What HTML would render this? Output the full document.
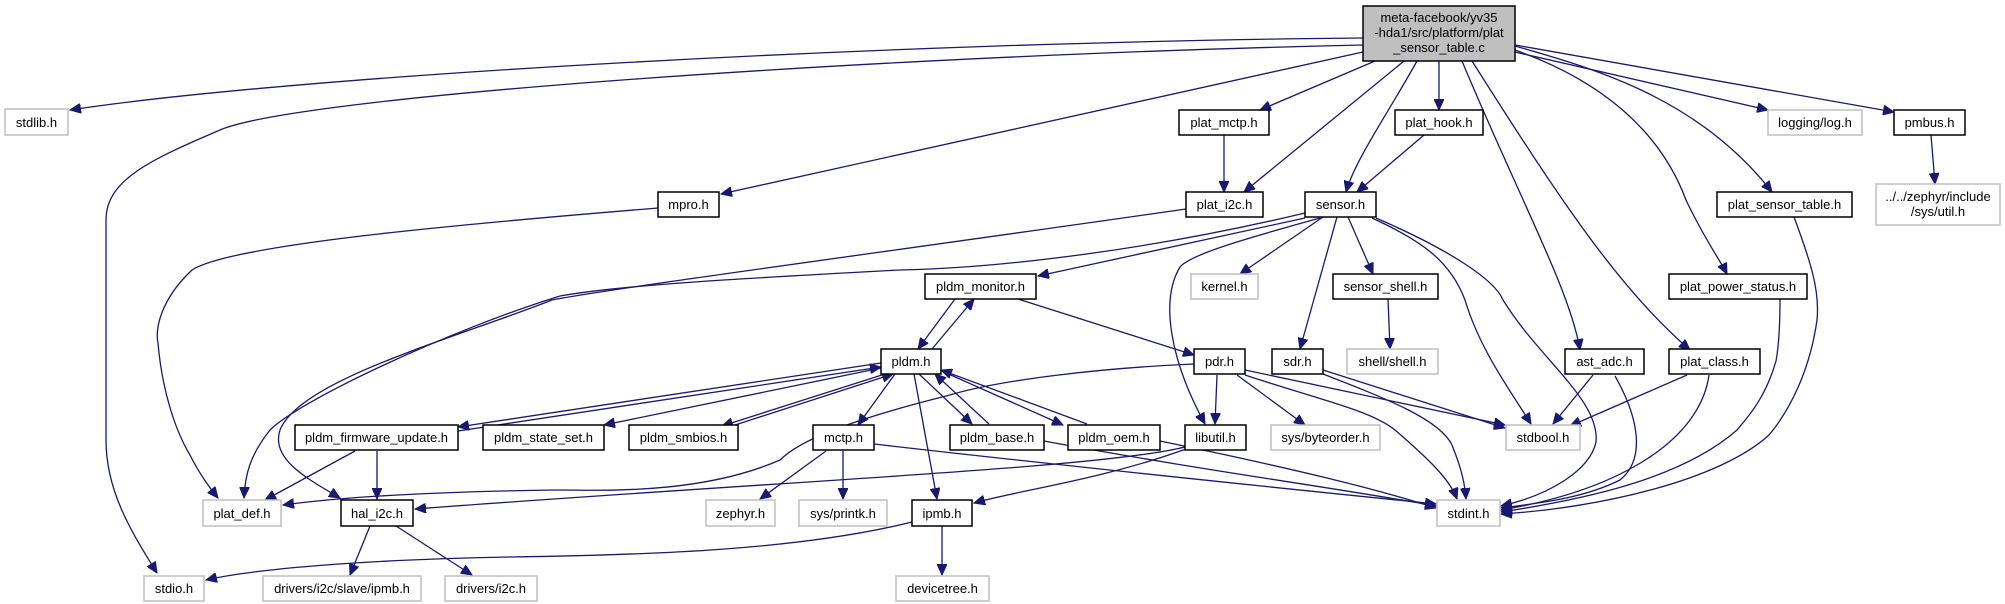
<!DOCTYPE html>
<html><head><meta charset="utf-8"><style>
html,body{margin:0;padding:0;background:#fff;}
svg{display:block;}
text{font-family:"Liberation Sans",Arial,sans-serif;font-size:13px;fill:#000;}
.e{fill:none;stroke:#191970;stroke-width:1.3;marker-end:url(#a);}
.n{fill:#fff;stroke:#000;stroke-width:1.5;}
.g{fill:#fff;stroke:#bfbfbf;stroke-width:1.5;}
</style></head><body>
<svg width="2005" height="604" viewBox="0 0 2005 604" xmlns="http://www.w3.org/2000/svg">
<defs><marker id="a" markerUnits="userSpaceOnUse" markerWidth="12" markerHeight="10" refX="11" refY="5" orient="auto"><path d="M0,0 L11,5 L0,10 z" fill="#191970" stroke="#191970"/></marker></defs>

<!-- edges -->
<path class="e" d="M1363,38 C900,42 300,75 70,110"/>
<path class="e" d="M1363,45 C900,55 300,95 220,130 C150,160 106,180 106,220 L106,440 C106,490 130,530 157,573"/>
<path class="e" d="M1363,52 L721,194"/>
<path class="e" d="M1375,61 L1260,110"/>
<path class="e" d="M1404,61 L1244,192"/>
<path class="e" d="M1417,61 C1390,110 1355,160 1346,192"/>
<path class="e" d="M1439,61 L1439,110"/>
<path class="e" d="M1462,61 C1520,200 1570,290 1580,350"/>
<path class="e" d="M1472,61 C1560,200 1620,290 1690,350"/>
<path class="e" d="M1515,50 C1600,80 1660,130 1686,200 C1705,240 1720,260 1727,274"/>
<path class="e" d="M1515,46 C1600,70 1700,100 1772,192"/>
<path class="e" d="M1515,52 L1768,110"/>
<path class="e" d="M1515,45 L1894,112"/>
<path class="e" d="M1931,135 L1935,184"/>
<path class="e" d="M1224,135 L1224,192"/>
<path class="e" d="M1424,135 L1357,192"/>
<path class="e" d="M1186,209 C900,250 600,290 552,300 C450,340 300,380 280,430 C270,460 310,480 340,498"/>
<path class="e" d="M1305,213 C1150,250 1000,268 900,270 C750,278 620,285 560,296 C450,330 300,400 270,430 C250,455 245,475 244,498"/>
<path class="e" d="M658,208 C450,225 230,245 192,270 C160,300 155,330 158,343 C162,390 175,430 190,455 C200,475 210,488 218,498"/>
<path class="e" d="M1305,218 L1038,276"/>
<path class="e" d="M955,299 L918,349"/>
<path class="e" d="M932,349 L974,299"/>
<path class="e" d="M1018,299 L1194,355"/>
<path class="e" d="M881,363 L458,427"/>
<path class="e" d="M458,431 L881,367"/>
<path class="e" d="M881,368 L604,425"/>
<path class="e" d="M885,374 L722,426"/>
<path class="e" d="M735,425 L893,374"/>
<path class="e" d="M895,374 L858,425"/>
<path class="e" d="M914,374 L937,499"/>
<path class="e" d="M919,374 L972,424"/>
<path class="e" d="M989,424 L935,374"/>
<path class="e" d="M944,372 L1063,425"/>
<path class="e" d="M1087,424 L941,370"/>
<path class="e" d="M874,444 C1100,470 1300,490 1436,504"/>
<path class="e" d="M1044,441 C1200,470 1350,490 1436,506"/>
<path class="e" d="M1160,441 C1300,470 1380,490 1436,508"/>
<path class="e" d="M826,451 L760,499"/>
<path class="e" d="M843,451 L843,499"/>
<path class="e" d="M1185,447 C1100,468 800,480 415,509"/>
<path class="e" d="M1186,449 C1100,480 1020,490 974,503"/>
<path class="e" d="M1194,364 C1100,368 1000,380 950,395 C850,420 800,440 780,460 C700,495 600,490 560,490 C400,492 320,500 283,505"/>
<path class="e" d="M1217,375 L1215,424"/>
<path class="e" d="M1237,375 L1305,425"/>
<path class="e" d="M1245,370 L1505,425"/>
<path class="e" d="M1245,375 C1320,400 1370,410 1395,430 C1430,460 1450,480 1457,499"/>
<path class="e" d="M1323,370 L1505,428"/>
<path class="e" d="M1323,374 C1390,400 1440,420 1452,445 C1462,470 1465,485 1466,499"/>
<path class="e" d="M1593,375 L1553,424"/>
<path class="e" d="M1615,376 C1640,420 1645,460 1620,480 C1580,500 1530,504 1501,508"/>
<path class="e" d="M1687,375 L1570,426"/>
<path class="e" d="M1709,375 C1700,440 1620,490 1501,510"/>
<path class="e" d="M1780,299 C1780,330 1778,350 1776,361 C1765,400 1745,420 1737,430 C1680,480 1580,500 1501,512"/>
<path class="e" d="M1794,217 C1810,260 1820,290 1817,320 C1810,370 1790,410 1769,435 C1720,480 1600,508 1501,514"/>
<path class="e" d="M1372,218 C1420,240 1450,260 1465,300 C1480,350 1510,390 1531,424"/>
<path class="e" d="M1376,218 C1450,250 1495,280 1503,300 C1540,360 1600,400 1596,442 C1590,470 1550,495 1501,506"/>
<path class="e" d="M1323,217 L1240,274"/>
<path class="e" d="M1337,217 L1300,349"/>
<path class="e" d="M1348,217 L1373,274"/>
<path class="e" d="M1320,218 C1240,240 1190,255 1180,267 C1160,300 1170,360 1205,424"/>
<path class="e" d="M1388,299 L1390,349"/>
<path class="e" d="M355,451 L265,500"/>
<path class="e" d="M377,451 L377,499"/>
<path class="e" d="M370,526 L350,575"/>
<path class="e" d="M396,526 L472,575"/>
<path class="e" d="M912,522 C800,550 650,555 510,557 C350,560 250,570 206,580"/>
<path class="e" d="M942,526 L942,575"/>

<!-- nodes -->
<rect x="1363" y="6" width="152" height="55" fill="#bfbfbf" stroke="#000" stroke-width="1.5"/>
<text x="1439" y="22" text-anchor="middle">meta-facebook/yv35</text>
<text x="1439" y="37" text-anchor="middle">-hda1/src/platform/plat</text>
<text x="1439" y="52" text-anchor="middle">_sensor_table.c</text>

<rect class="g" x="5" y="109" width="63" height="26"/><text x="36.5" y="127" text-anchor="middle">stdlib.h</text>
<rect class="n" x="658" y="192" width="61" height="25"/><text x="688.5" y="209" text-anchor="middle">mpro.h</text>
<rect class="n" x="1179" y="110" width="90" height="25"/><text x="1224" y="127" text-anchor="middle">plat_mctp.h</text>
<rect class="n" x="1395" y="110" width="88" height="25"/><text x="1439" y="127" text-anchor="middle">plat_hook.h</text>
<rect class="g" x="1768" y="110" width="94" height="25"/><text x="1815" y="127" text-anchor="middle">logging/log.h</text>
<rect class="n" x="1894" y="110" width="71" height="25"/><text x="1929.5" y="127" text-anchor="middle">pmbus.h</text>
<rect class="g" x="1876" y="184" width="124" height="41"/><text x="1938" y="201" text-anchor="middle">../../zephyr/include</text><text x="1938" y="216" text-anchor="middle">/sys/util.h</text>
<rect class="n" x="1186" y="192" width="77" height="25"/><text x="1224.5" y="209" text-anchor="middle">plat_i2c.h</text>
<rect class="n" x="1305" y="192" width="71" height="25"/><text x="1340.5" y="209" text-anchor="middle">sensor.h</text>
<rect class="n" x="1717" y="192" width="135" height="25"/><text x="1784.5" y="209" text-anchor="middle">plat_sensor_table.h</text>
<rect class="g" x="1191" y="274" width="67" height="25"/><text x="1224.5" y="291" text-anchor="middle">kernel.h</text>
<rect class="n" x="1333" y="274" width="105" height="25"/><text x="1385.5" y="291" text-anchor="middle">sensor_shell.h</text>
<rect class="n" x="1669" y="274" width="138" height="25"/><text x="1738" y="291" text-anchor="middle">plat_power_status.h</text>
<rect class="n" x="925" y="274" width="111" height="25"/><text x="980.5" y="291" text-anchor="middle">pldm_monitor.h</text>
<rect class="n" x="881" y="349" width="60" height="25"/><text x="911" y="366" text-anchor="middle">pldm.h</text>
<rect class="n" x="1194" y="349" width="51" height="25"/><text x="1219.5" y="366" text-anchor="middle">pdr.h</text>
<rect class="n" x="1272" y="349" width="51" height="25"/><text x="1297.5" y="366" text-anchor="middle">sdr.h</text>
<rect class="g" x="1347" y="349" width="91" height="25"/><text x="1392.5" y="366" text-anchor="middle">shell/shell.h</text>
<rect class="n" x="1565" y="349" width="79" height="25"/><text x="1604.5" y="366" text-anchor="middle">ast_adc.h</text>
<rect class="n" x="1669" y="349" width="91" height="25"/><text x="1714.5" y="366" text-anchor="middle">plat_class.h</text>
<rect class="n" x="295" y="425" width="163" height="25"/><text x="376.5" y="442" text-anchor="middle">pldm_firmware_update.h</text>
<rect class="n" x="483" y="425" width="121" height="25"/><text x="543.5" y="442" text-anchor="middle">pldm_state_set.h</text>
<rect class="n" x="629" y="425" width="109" height="25"/><text x="683.5" y="442" text-anchor="middle">pldm_smbios.h</text>
<rect class="n" x="813" y="425" width="61" height="25"/><text x="843.5" y="442" text-anchor="middle">mctp.h</text>
<rect class="n" x="950" y="425" width="94" height="25"/><text x="997" y="442" text-anchor="middle">pldm_base.h</text>
<rect class="n" x="1068" y="425" width="92" height="25"/><text x="1114" y="442" text-anchor="middle">pldm_oem.h</text>
<rect class="n" x="1185" y="425" width="61" height="25"/><text x="1215.5" y="442" text-anchor="middle">libutil.h</text>
<rect class="g" x="1271" y="425" width="109" height="25"/><text x="1325.5" y="442" text-anchor="middle">sys/byteorder.h</text>
<rect class="g" x="1506" y="425" width="74" height="25"/><text x="1543" y="442" text-anchor="middle">stdbool.h</text>
<rect class="g" x="203" y="500" width="78" height="26"/><text x="242" y="518" text-anchor="middle">plat_def.h</text>
<rect class="n" x="341" y="500" width="72" height="26"/><text x="377" y="518" text-anchor="middle">hal_i2c.h</text>
<rect class="g" x="706" y="500" width="69" height="26"/><text x="740.5" y="518" text-anchor="middle">zephyr.h</text>
<rect class="g" x="799" y="500" width="88" height="26"/><text x="843" y="518" text-anchor="middle">sys/printk.h</text>
<rect class="n" x="912" y="500" width="60" height="26"/><text x="942" y="518" text-anchor="middle">ipmb.h</text>
<rect class="g" x="1437" y="500" width="63" height="26"/><text x="1468.5" y="518" text-anchor="middle">stdint.h</text>
<rect class="g" x="144" y="576" width="60" height="25"/><text x="174" y="593" text-anchor="middle">stdio.h</text>
<rect class="g" x="263" y="576" width="158" height="25"/><text x="342" y="593" text-anchor="middle">drivers/i2c/slave/ipmb.h</text>
<rect class="g" x="445" y="576" width="92" height="25"/><text x="491" y="593" text-anchor="middle">drivers/i2c.h</text>
<rect class="g" x="896" y="576" width="93" height="25"/><text x="942.5" y="593" text-anchor="middle">devicetree.h</text>
</svg>
</body></html>
